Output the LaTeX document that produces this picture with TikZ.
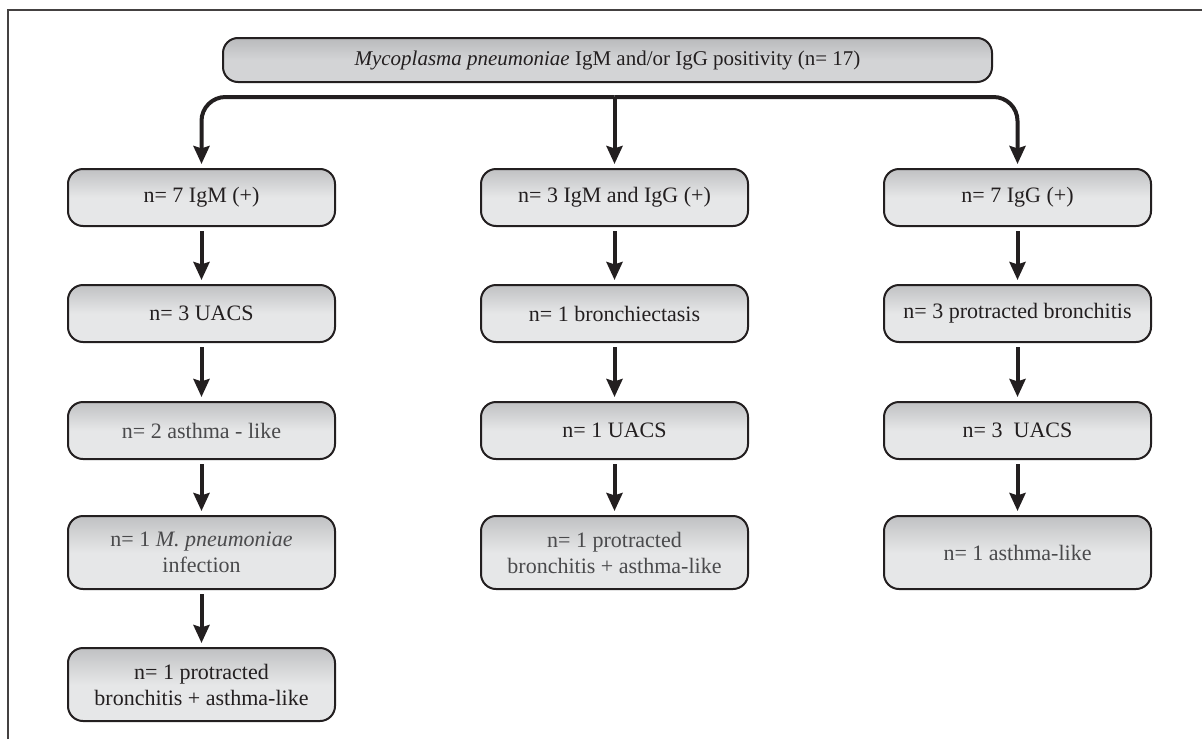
\documentclass[tikz,border=0pt]{standalone}
\usepackage{fontspec}
\setmainfont{Liberation Serif}
\usetikzlibrary{arrows.meta}
\definecolor{boxtop}{HTML}{C0C1C3}
\definecolor{boxbot}{HTML}{E6E7E8}
\definecolor{headtop}{HTML}{B9BABC}
\definecolor{headbot}{HTML}{D3D4D6}
\definecolor{ink}{HTML}{231F20}
\definecolor{inkgray}{HTML}{4A4A4C}
\tikzset{>={Stealth[length=9pt,width=8pt,inset=1.2pt]}}
\tikzstyle{box}=[draw=ink,line width=1pt,rounded corners=7.5pt,
                 top color=boxtop,bottom color=boxbot,middle color=boxbot,
                 text=ink,align=center,inner sep=2pt,
                 minimum width=133.5pt,minimum height=28.5pt,
                 font=\fontsize{11}{13}\selectfont]
\tikzstyle{tallbox}=[box,minimum height=36.5pt]
\tikzstyle{headbox}=[box,top color=headtop,bottom color=headbot,middle color=headbot,
                     minimum width=384.5pt,minimum height=22pt,
                     font=\fontsize{10.5}{12.5}\selectfont]
\tikzstyle{flow}=[->,draw=ink,line width=2pt,shorten <=2pt,shorten >=2pt]

\begin{document}
\begin{tikzpicture}[x=0.5pt,y=-0.5pt]
  \useasboundingbox (0,0) rectangle (1202,739);
  \def\cA{201.5} % left column
  \def\cB{614.5} % middle column
  \def\cC{1017.5} % right column

  % FRAME
  \draw[line width=1pt,draw=ink!85] (8,739) -- (8,10) -- (1202,10);

  % HEAD
  \node[headbox] (pos) at (607.5,60)
    {\textit{Mycoplasma pneumoniae} IgM and/or IgG positivity (n= 17)};
  \coordinate (bar) at (0,97);

  % LEFT COLUMN
  \node[box] (igm) at (\cA,197.5) {n= 7 IgM (+)};
  \node[box] (igmuacs) at (\cA,313.5) {n= 3 UACS};
  \node[box,text=inkgray] (igmasth) at (\cA,430.5) {n= 2 asthma - like};
  \node[tallbox,text=inkgray] (igminf) at (\cA,552.5)
    {n= 1 \textit{M. pneumoniae}\\infection};
  \node[tallbox] (igmprot) at (\cA,684.5) {n= 1 protracted\\bronchitis + asthma-like};

  % MIDDLE COLUMN
  \node[box] (both) at (\cB,197.5) {n= 3 IgM and IgG (+)};
  \node[box] (bothbron) at (\cB,313.5) {n= 1 bronchiectasis};
  \node[box] (bothuacs) at (\cB,430.5) {n= 1 UACS};
  \node[tallbox,text=inkgray] (bothprot) at (\cB,552.5)
    {n= 1 protracted\\bronchitis + asthma-like};

  % RIGHT COLUMN
  \node[box] (igg) at (\cC,197.5) {n= 7 IgG (+)};
  \node[box] (iggprot) at (\cC,313.5) {n= 3 protracted bronchitis};
  \node[box] (igguacs) at (\cC,430.5) {n= 3~ UACS};
  \node[tallbox,text=inkgray] (iggasth) at (\cC,552.5) {n= 1 asthma-like};

  % SPLIT
  \draw[flow,rounded corners=12pt,shorten <=0pt] (both.north |- bar) -| (igm.north);
  \draw[flow,rounded corners=12pt,shorten <=0pt] (both.north |- bar) -| (igg.north);
  \draw[flow,shorten <=0pt] (both.north |- bar) -- (both.north);

  % ARROWS
  \foreach \a/\b in {igm/igmuacs,igmuacs/igmasth,igmasth/igminf,igminf/igmprot,
                     both/bothbron,bothbron/bothuacs,bothuacs/bothprot,
                     igg/iggprot,iggprot/igguacs,igguacs/iggasth}
    \draw[flow] (\a) -- (\b);
\end{tikzpicture}
\end{document}
